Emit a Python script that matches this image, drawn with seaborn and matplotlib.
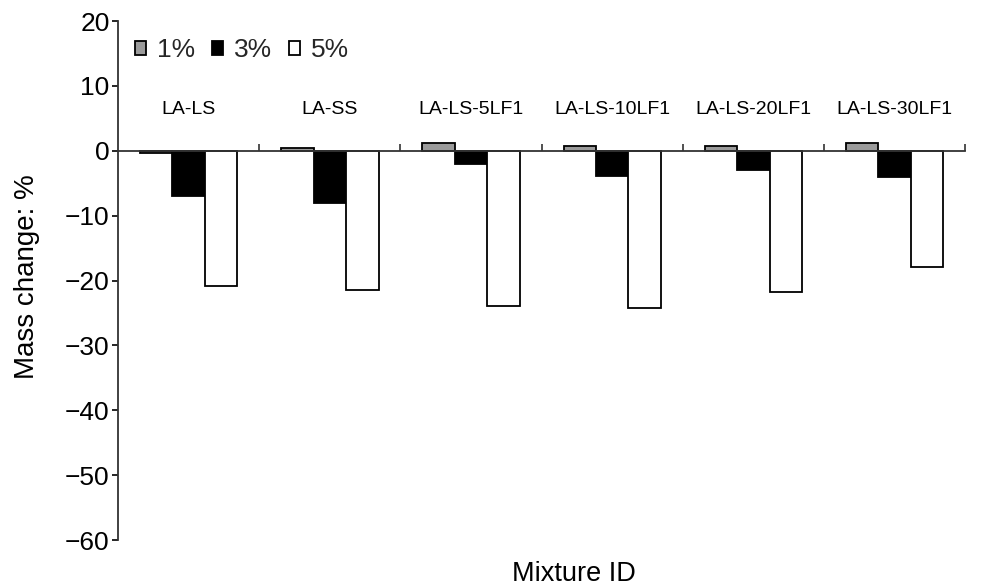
import matplotlib
matplotlib.use("Agg")
import matplotlib.pyplot as plt
import seaborn as sns
import pandas as pd

mixtures = ["LA-LS", "LA-SS", "LA-LS-5LF1", "LA-LS-10LF1", "LA-LS-20LF1", "LA-LS-30LF1"]
levels = ["1%", "3%", "5%"]
change_1 = [-0.3, 0.4, 1.2, 0.8, 0.8, 1.2]
change_3 = [-7.0, -8.1, -2.1, -3.9, -3.0, -4.1]
change_5 = [-20.8, -21.5, -23.9, -24.3, -21.8, -17.9]
colors = ["#9b9b9b", "#000000", "#ffffff"]

rows = []
for lvl, vals in zip(levels, [change_1, change_3, change_5]):
    for m, v in zip(mixtures, vals):
        rows.append({"Mixture": m, "Level": lvl, "Change": v})
df = pd.DataFrame(rows)

sns.set_theme(style="white")
plt.rcParams["font.family"] = ["Liberation Sans", "DejaVu Sans"]

fig = plt.figure(figsize=(9.83, 5.87), dpi=100)
ax = fig.add_axes([0.12, 0.08, 0.862, 0.884])

sns.barplot(data=df, x="Mixture", y="Change", hue="Level", order=mixtures,
            hue_order=levels, palette=colors, edgecolor="black", linewidth=1.3,
            width=0.69, saturation=1, ax=ax)

ax.set_xlim(-0.5, 5.5)
ax.set_ylim(-60, 20)
ax.set_yticks(range(-60, 21, 10))
ax.tick_params(axis="y", labelsize=19, length=4, width=1.2, direction="out",
               colors="black", pad=2, left=True)

# horizontal axis sits at zero, with ticks between the mixture groups
for s in ["top", "right"]:
    ax.spines[s].set_visible(False)
ax.spines["bottom"].set_position(("data", 0))
ax.spines["bottom"].set_color("#333333")
ax.spines["bottom"].set_linewidth(1.3)
ax.spines["left"].set_color("#333333")
ax.spines["left"].set_linewidth(1.3)
ax.set_xticks([i + 0.5 for i in range(len(mixtures))])
ax.set_xticklabels([])
ax.tick_params(axis="x", direction="in", length=5, width=1.2, bottom=True, colors="#333333")

for i, m in enumerate(mixtures):
    ax.text(i, 6.3, m, ha="center", va="center", fontsize=14, color="black")

ax.set_xlabel("Mixture ID", fontsize=19.5, color="black")
ax.xaxis.set_label_coords(0.538, -0.04)
ax.set_ylabel("Mass change: %", fontsize=20, color="black")
ax.yaxis.set_label_coords(-0.092, 0.507)

ax.legend(loc="upper left", bbox_to_anchor=(0.0, 1.0), ncol=3, frameon=False,
          fontsize=19, handlelength=0.42, handleheight=0.42, handletextpad=0.4,
          columnspacing=0.65, borderaxespad=0.25)

fig.savefig("out.png", dpi=100, facecolor="white")
